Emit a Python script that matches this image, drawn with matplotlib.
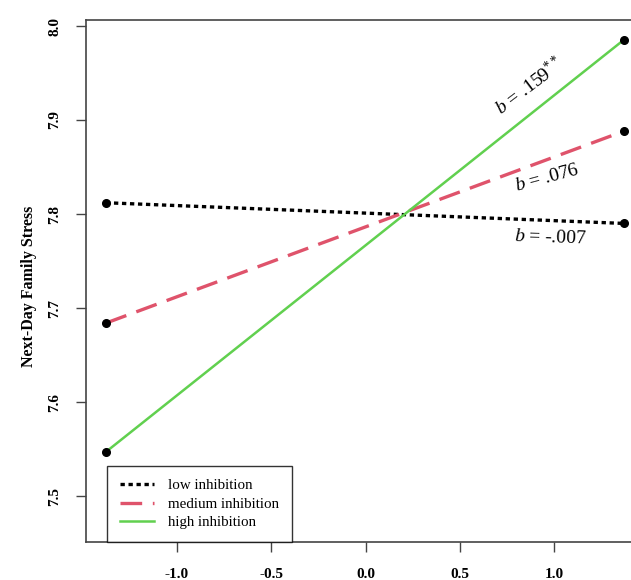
import matplotlib
matplotlib.use("Agg")
import matplotlib.pyplot as plt
from matplotlib.lines import Line2D

plt.rcParams['font.family'] = ['Liberation Serif', 'DejaVu Serif']
plt.rcParams['mathtext.fontset'] = 'custom'
plt.rcParams['mathtext.rm'] = 'Liberation Serif'
plt.rcParams['mathtext.it'] = 'Liberation Serif:italic'

# Data
x_vals = [-1.377, 1.369]
low_vals = [7.812, 7.790]
medium_vals = [7.684, 7.888]
high_vals = [7.547, 7.985]
series_names = ["low inhibition", "medium inhibition", "high inhibition"]
slope_labels = [r"$b$ = -.007", r"$b$ = .076", r"$b$ = .159$^{**}$"]
x_ticks = [-1.0, -0.5, 0.0, 0.5, 1.0]
x_tick_labels = ["-1.0", "-0.5", "0.0", "0.5", "1.0"]
y_ticks = [7.5, 7.6, 7.7, 7.8, 7.9, 8.0]
y_tick_labels = ["7.5", "7.6", "7.7", "7.8", "7.9", "8.0"]

colors = ["black", "#DF536B", "#61D04F"]
styles = [(0, (1.3, 1.1)), (0, (6.5, 3.2)), "solid"]
widths = [2.4, 2.4, 1.8]

W, H = 631, 580
fig = plt.figure(figsize=(W / 100, H / 100), dpi=100)
left_px, right_px, top_px, bot_px = 86, 645, 20, 542
ax = fig.add_axes([left_px / W, 1 - bot_px / H, (right_px - left_px) / W, (bot_px - top_px) / H])

handles = []
for vals, c, ls, lw in zip([low_vals, medium_vals, high_vals], colors, styles, widths):
    ax.plot(x_vals, vals, color=c, linestyle=ls, linewidth=lw, solid_capstyle='butt', dash_capstyle='butt')
    ax.plot(x_vals, vals, 'o', color='black', markersize=5.5)
    handles.append(Line2D([0], [0], color=c, linestyle=ls, linewidth=lw))

ax.set_xlim(-1.483, 1.483)
ax.set_ylim(7.4511, 8.0064)
ax.set_xticks(x_ticks)
ax.set_xticklabels(x_tick_labels, fontweight='bold', fontsize=11)
ax.set_yticks(y_ticks)
ax.set_yticklabels(y_tick_labels, fontweight='bold', fontsize=11, rotation=90, va='center')
ax.tick_params(axis='both', length=7, width=1.0, color='#444444', direction='out')
ax.tick_params(axis='x', pad=12)
ax.tick_params(axis='y', pad=11)
for s in ax.spines.values():
    s.set_color('#444444')
    s.set_linewidth(1.2)

fig.text(29 / W, 1 - 286 / H, "Next-Day Family Stress", rotation=90, ha='center', va='center',
         fontweight='bold', fontsize=11.5)

# slope annotations (data coordinates)
ann_pos = [(0.979, 7.7745, -2), (0.963, 7.8383, 15), (0.867, 7.9362, 37)]
for (tx, ty, rot), lab in zip(ann_pos, slope_labels):
    ax.text(tx, ty, lab, ha='center', va='center', rotation=rot, rotation_mode='anchor', fontsize=14)

leg = ax.legend(handles, series_names, loc='lower left',
                bbox_to_anchor=((107 - left_px) / (right_px - left_px), 0.0),
                fontsize=10.8, frameon=True, fancybox=False, edgecolor='black',
                handlelength=2.3, handletextpad=0.9, labelspacing=0.33,
                borderpad=0.85, borderaxespad=0.0)
leg.get_frame().set_linewidth(1.0)

fig.savefig("out.png", dpi=100)
